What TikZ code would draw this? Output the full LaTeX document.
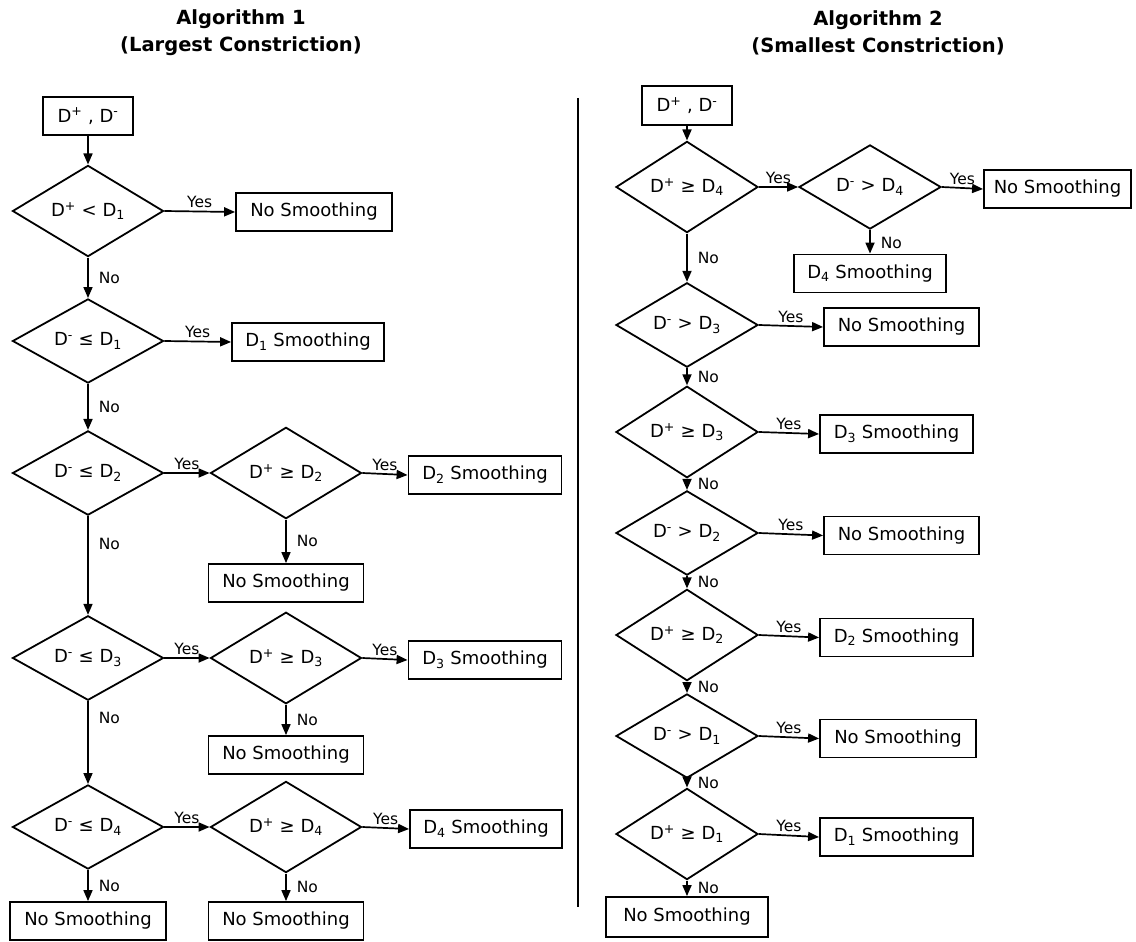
\documentclass[tikz,border=0pt]{standalone}
\usepackage{fontspec}
\setmainfont{DejaVu Sans}
\usetikzlibrary{shapes.geometric,arrows.meta}
\newcommand{\Dp}{D\textsuperscript{+}}
\newcommand{\Dm}{D\textsuperscript{-}}
\newcommand{\Dn}[1]{D\textsubscript{#1}}
\begin{document}
\begin{tikzpicture}[x=1pt,y=-1pt,
  box/.style={draw, line width=1.8pt, rectangle, minimum height=38pt, inner sep=0pt, font=\fontsize{18}{21}\selectfont},
  dec/.style={draw, line width=1.8pt, diamond, inner sep=0pt, minimum width=151pt, minimum height=84pt, font=\fontsize{18}{21}\selectfont},
  decr/.style={dec, minimum width=142pt, minimum height=80pt},
  arr/.style={line width=1.7pt, -{Triangle[length=11pt,width=9pt]}},
  lbl/.style={font=\fontsize{15.5}{17}\selectfont, inner sep=2pt},
  yes/.style={lbl, above=0.5pt},
  no/.style={lbl, right=8pt},
  ttl/.style={font=\bfseries\fontsize{19.5}{27}\selectfont, align=center}]
\useasboundingbox (0,0) rectangle (1136,942);

% titles
\node[ttl] (t1) at (241,32.5) {Algorithm 1\\(Largest Constriction)};
\node[ttl] (t2) at (878,32.5) {Algorithm 2\\(Smallest Constriction)};

% divider
\coordinate (dvt) at (578,98);
\coordinate (dvb) at (578,907);
\draw[line width=1.7pt] (dvt) -- (dvb);

% ---------------- Algorithm 1 ----------------
\node[box, minimum width=90pt] (s1) at (88,116) {\Dp\ , \Dm};
\node[dec] (a1) at (88,211) {\Dp\ < \Dn{1}};
\node[box, minimum width=156pt] (a1y) at (314,212) {No Smoothing};
\node[dec] (a2) at (88,341) {\Dm\ ≤ \Dn{1}};
\node[box, minimum width=152pt] (a2y) at (308,342) {\Dn{1} Smoothing};
\node[dec] (a3) at (88,473) {\Dm\ ≤ \Dn{2}};
\node[dec] (a4) at (286,473) {\Dp\ ≥ \Dn{2}};
\node[box, minimum width=153pt] (a4y) at (485,475) {\Dn{2} Smoothing};
\node[box, minimum width=155pt] (a4n) at (286,583) {No Smoothing};
\node[dec] (a5) at (88,658) {\Dm\ ≤ \Dn{3}};
\node[dec] (a6) at (286,658) {\Dp\ ≥ \Dn{3}};
\node[box, minimum width=153pt] (a6y) at (485,660) {\Dn{3} Smoothing};
\node[box, minimum width=155pt] (a6n) at (286,755) {No Smoothing};
\node[dec] (a7) at (88,827) {\Dm\ ≤ \Dn{4}};
\node[dec] (a8) at (286,827) {\Dp\ ≥ \Dn{4}};
\node[box, minimum width=152pt] (a8y) at (486,829) {\Dn{4} Smoothing};
\node[box, minimum width=156pt] (a7n) at (88,921) {No Smoothing};
\node[box, minimum width=155pt] (a8n) at (286,921) {No Smoothing};

\draw[arr] (s1.south) -- (a1.north);
\draw[arr] (a1.east) -- node[yes]{Yes} (a1y.west);
\draw[arr] (a1.south) -- node[no]{No} (a2.north);
\draw[arr] (a2.east) -- node[yes]{Yes} (a2y.west);
\draw[arr] (a2.south) -- node[no]{No} (a3.north);
\draw[arr] (a3.east) -- node[yes]{Yes} (a4.west);
\draw[arr] (a4.east) -- node[yes]{Yes} (a4y.west);
\draw[arr] (a4.south) -- node[no]{No} (a4n.north);
\draw[arr] (a3.south) -- node[no, pos=0.28]{No} (a5.north);
\draw[arr] (a5.east) -- node[yes]{Yes} (a6.west);
\draw[arr] (a6.east) -- node[yes]{Yes} (a6y.west);
\draw[arr] (a6.south) -- node[no]{No} (a6n.north);
\draw[arr] (a5.south) -- node[no, pos=0.2]{No} (a7.north);
\draw[arr] (a7.east) -- node[yes]{Yes} (a8.west);
\draw[arr] (a8.east) -- node[yes]{Yes} (a8y.west);
\draw[arr] (a7.south) -- node[no]{No} (a7n.north);
\draw[arr] (a8.south) -- node[no]{No} (a8n.north);

% ---------------- Algorithm 2 ----------------
\node[box, minimum width=90pt, minimum height=39pt] (s2) at (687,105.5) {\Dp\ , \Dm};
\node[decr] (b1) at (687,187) {\Dp\ ≥ \Dn{4}};
\node[decr] (b2) at (870,187) {\Dm\ > \Dn{4}};
\node[box, minimum width=147pt] (b2y) at (1057.5,189) {No Smoothing};
\node[box, minimum width=152pt] (b2n) at (870,273.5) {\Dn{4} Smoothing};
\node[decr] (b3) at (687,325) {\Dm\ > \Dn{3}};
\node[box, minimum width=155pt] (b3y) at (901.5,327) {No Smoothing};
\node[decr] (b4) at (687,432) {\Dp\ ≥ \Dn{3}};
\node[box, minimum width=153pt] (b4y) at (896.5,434) {\Dn{3} Smoothing};
\node[decr] (b5) at (687,533) {\Dm\ > \Dn{2}};
\node[box, minimum width=155pt] (b5y) at (901.5,535.5) {No Smoothing};
\node[decr] (b6) at (687,635) {\Dp\ ≥ \Dn{2}};
\node[box, minimum width=153pt] (b6y) at (896.5,637.5) {\Dn{2} Smoothing};
\node[decr] (b7) at (687,736) {\Dm\ > \Dn{1}};
\node[box, minimum width=156pt] (b7y) at (898,738.5) {No Smoothing};
\node[decr] (b8) at (687,834) {\Dp\ ≥ \Dn{1}};
\node[box, minimum width=153pt] (b8y) at (896.5,837) {\Dn{1} Smoothing};
\node[box, minimum width=162pt, minimum height=40pt] (b8n) at (687,917) {No Smoothing};

\draw[arr] (s2.south) -- (b1.north);
\draw[arr] (b1.east) -- node[yes]{Yes} (b2.west);
\draw[arr] (b2.east) -- node[yes]{Yes} (b2y.west);
\draw[arr] (b2.south) -- node[no, pos=0.55]{No} (b2n.north);
\draw[arr] (b1.south) -- node[no]{No} (b3.north);
\draw[arr] (b3.east) -- node[yes]{Yes} (b3y.west);
\draw[arr] (b3.south) -- node[no]{No} (b4.north);
\draw[arr] (b4.east) -- node[yes]{Yes} (b4y.west);
\draw[arr] (b4.south) -- node[no]{No} (b5.north);
\draw[arr] (b5.east) -- node[yes]{Yes} (b5y.west);
\draw[arr] (b5.south) -- node[no]{No} (b6.north);
\draw[arr] (b6.east) -- node[yes]{Yes} (b6y.west);
\draw[arr] (b6.south) -- node[no]{No} (b7.north);
\draw[arr] (b7.east) -- node[yes]{Yes} (b7y.west);
\draw[arr] (b7.south) -- node[no]{No} (b8.north);
\draw[arr] (b8.east) -- node[yes]{Yes} (b8y.west);
\draw[arr] (b8.south) -- node[no]{No} (b8n.north);
\end{tikzpicture}
\end{document}
